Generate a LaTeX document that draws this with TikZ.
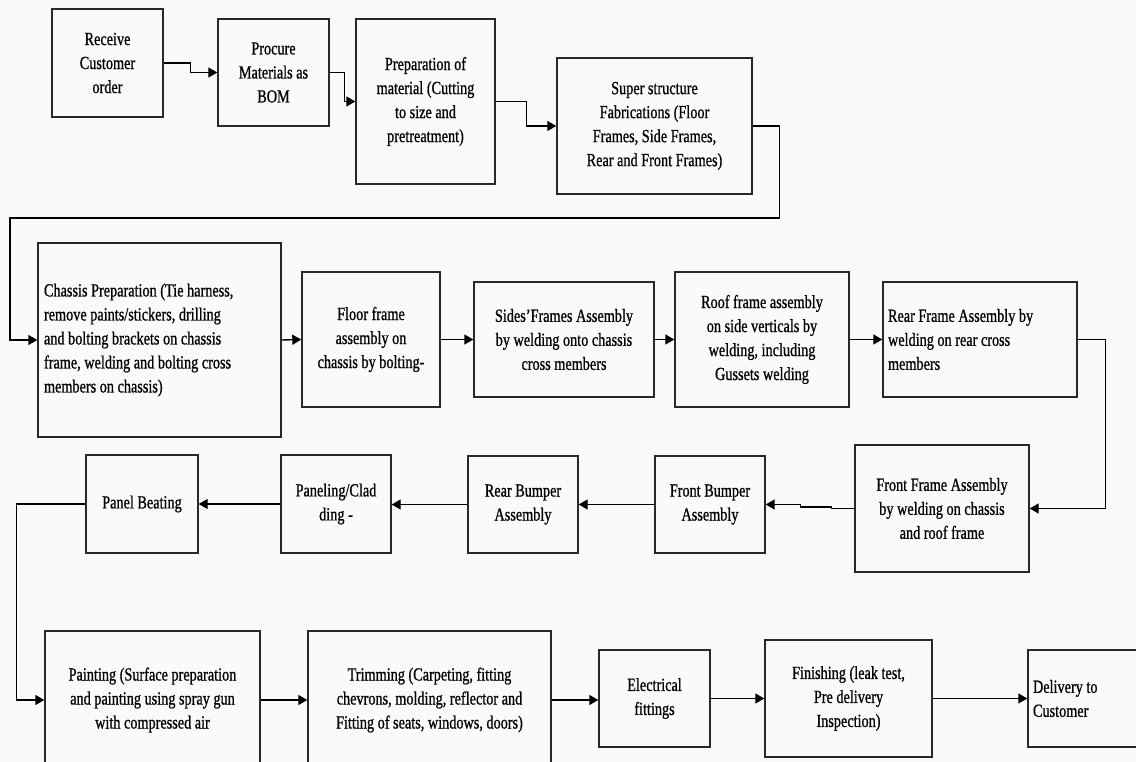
\documentclass[tikz,border=0pt]{standalone}
\usepackage{fontspec}
\setmainfont{Liberation Serif}[FakeStretch=0.77,FakeBold=0.8]
\usetikzlibrary{arrows.meta}
\definecolor{bg}{RGB}{250,250,250}
\definecolor{edge}{RGB}{40,40,40}
\tikzset{
  box/.style={draw=edge, line width=1.4pt, inner sep=0pt, align=center,
    font=\fontsize{18.5}{24}\selectfont},
  lbox/.style={draw=edge, line width=1.4pt, inner ysep=0pt, inner xsep=5pt, align=flush left,
    font=\fontsize{18.5}{24}\selectfont},
  arr/.style={draw=black, line width=1.4pt, -{Triangle[length=9pt,width=10pt]}}
}
\begin{document}
\begin{tikzpicture}[x=1pt,y=-1pt]
\fill[bg] (0,0) rectangle (1136,762);
\useasboundingbox (0,0) rectangle (1136,762);
\clip (0,0) rectangle (1136,762);
% row 1
\node[box, minimum width=111pt, minimum height=108pt] (rec) at (107.5,63) {Receive\\Customer\\order};
\node[box, minimum width=111pt, minimum height=107pt] (proc) at (273.5,72.5) {Procure\\Materials as\\BOM};
\node[box, minimum width=139pt, minimum height=165pt] (prep) at (425.5,101.5) {Preparation of\\material (Cutting\\to size and\\pretreatment)};
\node[box, minimum width=195pt, minimum height=136pt] (sup) at (654.5,126) {Super structure\\Fabrications (Floor\\Frames, Side Frames,\\Rear and Front Frames)};
% row 2
\node[lbox, text width=231pt, minimum height=194pt, inner xsep=6pt] (chas) at (159.5,340) {Chassis Preparation (Tie harness,\\remove paints/stickers, drilling\\and bolting brackets on chassis\\frame, welding and bolting cross\\members on chassis)};
\node[box, minimum width=138pt, minimum height=135pt] (floor) at (371,339.5) {Floor frame\\assembly on\\chassis by bolting-};
\node[box, minimum width=180pt, minimum height=115pt] (sides) at (564,339.5) {Sides’Frames Assembly\\by welding onto chassis\\cross members};
\node[box, minimum width=174pt, minimum height=135pt] (roof) at (762,339.5) {Roof frame assembly\\on side verticals by\\welding, including\\Gussets welding};
\node[lbox, text width=184pt, minimum height=115pt] (rearf) at (980,339.5) {Rear Frame Assembly by\\welding on rear cross\\members};
% row 3
\node[box, minimum width=174pt, minimum height=127pt] (frontf) at (942,508.5) {Front Frame Assembly\\by welding on chassis\\and roof frame};
\node[box, minimum width=110pt, minimum height=97pt] (fbump) at (710,504.5) {Front Bumper\\Assembly};
\node[box, minimum width=110pt, minimum height=97pt] (rbump) at (523,504.5) {Rear Bumper\\Assembly};
\node[box, minimum width=110pt, minimum height=98pt] (panel) at (336,504) {Paneling/Clad\\ding -};
\node[box, minimum width=112pt, minimum height=98pt] (beat) at (142,504) {Panel Beating};
% row 4
\node[box, minimum width=215pt, minimum height=138pt] (paint) at (152.5,700) {Painting (Surface preparation\\and painting using spray gun\\with compressed air};
\node[box, minimum width=243pt, minimum height=138pt] (trim) at (429.5,700) {Trimming (Carpeting, fitting\\chevrons, molding, reflector and\\Fitting of seats, windows, doors)};
\node[box, minimum width=111pt, minimum height=97pt] (elec) at (654.5,698.5) {Electrical\\fittings};
\node[box, minimum width=167pt, minimum height=117pt] (fin) at (848.5,698.5) {Finishing (leak test,\\Pre delivery\\Inspection)};
\node[lbox, text width=112pt, minimum height=97pt] (deliv) at (1089,698.5) {Delivery to\\Customer};
% connectors
\draw[arr] (rec.east) -- ++(27,0) |- (proc.west);
\draw[arr] (proc.east) -- ++(15,0) |- (prep.west);
\draw[arr] (prep.east) -- ++(31,0) |- (sup.west);
\draw[arr] (sup.east) -- ++(27,0) -- ++(0,92) -- (10,218) |- (chas.west);
\draw[arr] (chas.east) -- (floor.west);
\draw[arr] (floor.east) -- (sides.west);
\draw[arr] (sides.east) -- (roof.west);
\draw[arr] (roof.east) -- (rearf.west);
\draw[arr] (rearf.east) -- ++(28,0) |- (frontf.east);
\draw[arr] (frontf.west) -- ++(-23,0) -- ++(0,-1.5) -- ++(-31,0) |- (fbump.east);
\draw[arr] (fbump.west) -- (rbump.east);
\draw[arr] (rbump.west) -- (rbump.west -| panel.east);
\draw[arr] (panel.west) -- (beat.east);
\draw[arr] (beat.west) -- ++(-69,0) |- (paint.west);
\draw[arr] (paint.east) -- (trim.west);
\draw[arr] (trim.east) -- (trim.east -| elec.west);
\draw[arr] (elec.east) -- (fin.west);
\draw[arr] (fin.east) -- (deliv.west);
\end{tikzpicture}
\end{document}
